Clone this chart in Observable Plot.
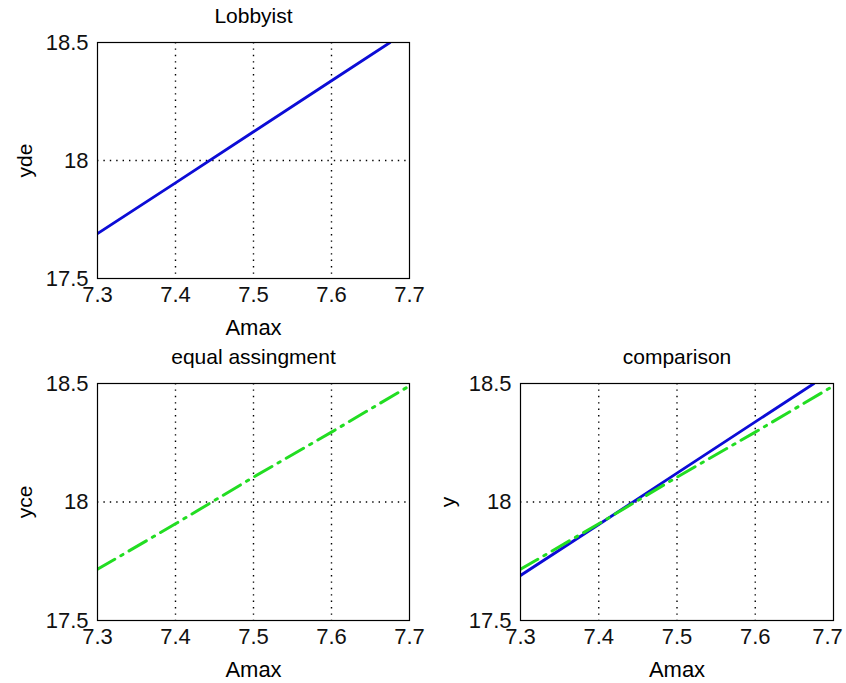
<!DOCTYPE html>
<html>
<head>
<meta charset="utf-8">
<script src="https://cdn.jsdelivr.net/npm/d3@7"></script>
<script src="https://cdn.jsdelivr.net/npm/@observablehq/plot@0.6"></script>
<style>
  html, body { margin: 0; padding: 0; background: #fff; }
  #fig { position: relative; width: 846px; height: 683px; background: #fff; overflow: hidden; }
  #fig > svg { position: absolute; overflow: visible; }
</style>
</head>
<body>
<div id="fig"></div>
<script>
// ---- data ----
const xTicks = [7.3, 7.4, 7.5, 7.6, 7.7];
const yTicks = [17.5, 18, 18.5];
const xGrid = [7.4, 7.5, 7.6];
const yGrid = [18];

// Lobbyist (yde) – line leaves the top of the axes near Amax = 7.675
const amaxDe = [7.3, 7.4, 7.5, 7.6, 7.675];
const yde = [17.69, 17.905, 18.122, 18.338, 18.5];

// equal assignment (yce)
const amaxCe = [7.3, 7.4, 7.5, 7.6, 7.7];
const yce = [17.716, 17.908, 18.105, 18.295, 18.49];

const titles = ["Lobbyist", "equal assingment", "comparison"];
const yLabels = ["yde", "yce", "y"];
const xLabel = "Amax";

const BLUE = "#0c0cd6";
const GREEN = "#22dd22";

const deRows = amaxDe.map((a, i) => ({a, v: yde[i]}));
const ceRows = amaxCe.map((a, i) => ({a, v: yce[i]}));

const FONT = "'Liberation Sans', Arial, sans-serif";

function panel({title, ylabel, series, left, top, width, height, mt, mb, mr, lastDx}) {
  const lineMarks = series.map(s => Plot.line(s.rows, {
    x: "a", y: "v", stroke: s.color, strokeWidth: s.width,
    strokeDasharray: s.dash, clip: true
  }));
  const tickOpts = {tickSize: 0, tickPadding: 8, fontSize: 22, label: null, tickFormat: d => d.toFixed(1), fill: "#111"};
  const svg = Plot.plot({
    width, height,
    marginLeft: 97, marginRight: mr, marginTop: mt, marginBottom: mb,
    style: {fontFamily: FONT, color: "#000", background: "transparent", overflow: "visible"},
    x: {domain: [7.3, 7.7]},
    y: {domain: [17.5, 18.5]},
    marks: [
      Plot.gridX(xGrid, {stroke: "#000", strokeOpacity: 1, strokeWidth: 1.4, strokeDasharray: "1.4,5"}),
      Plot.gridY(yGrid, {stroke: "#000", strokeOpacity: 1, strokeWidth: 1.4, strokeDasharray: "1.4,5"}),
      Plot.axisX(xTicks.slice(0, -1), tickOpts),
      Plot.axisX(xTicks.slice(-1), {...tickOpts, dx: lastDx}),
      Plot.axisY(yTicks, {tickSize: 0, tickPadding: 9, fontSize: 22, label: null, tickFormat: d => String(d), fill: "#111"}),
      ...lineMarks,
      Plot.frame({stroke: "#000", strokeWidth: 1.2}),
      Plot.text([title], {frameAnchor: "top", lineAnchor: "middle", dy: -26, fontSize: 21, text: d => d, fill: "#000"}),
      Plot.text([xLabel], {frameAnchor: "bottom", lineAnchor: "middle", dy: 49, fontSize: 22, text: d => d, fill: "#000"}),
      Plot.text([ylabel], {frameAnchor: "left", lineAnchor: "middle", textAnchor: "middle", dx: -72, rotate: -90, fontSize: 21, text: d => d, fill: "#000"})
    ]
  });
  svg.style.left = left + "px";
  svg.style.top = top + "px";
  document.getElementById("fig").appendChild(svg);
}

panel({
  title: titles[0], ylabel: yLabels[0],
  series: [{rows: deRows, color: BLUE, width: 2.8}],
  left: 0, top: 0, width: 423, height: 340, mt: 42, mb: 62, mr: 14, lastDx: 0
});
panel({
  title: titles[1], ylabel: yLabels[1],
  series: [{rows: ceRows, color: GREEN, width: 3, dash: "20,7,2.5,7"}],
  left: 0, top: 340, width: 423, height: 343, mt: 43, mb: 63, mr: 14, lastDx: 0
});
panel({
  title: titles[2], ylabel: yLabels[2],
  series: [
    {rows: deRows, color: BLUE, width: 2.8},
    {rows: ceRows, color: GREEN, width: 3, dash: "20,7,2.5,7"}
  ],
  left: 423, top: 340, width: 423, height: 343, mt: 43, mb: 63, mr: 13, lastDx: -6
});
</script>
</body>
</html>
